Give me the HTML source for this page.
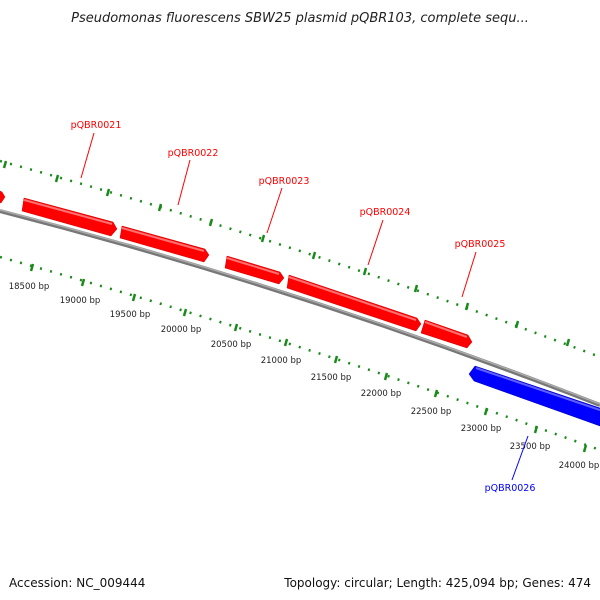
<!DOCTYPE html>
<html><head><meta charset="utf-8"><style>
html,body{margin:0;padding:0;background:#fff;}
svg{display:block;font-family:"DejaVu Sans","Liberation Sans",sans-serif;}
</style></head><body>
<svg width="600" height="600" viewBox="0 0 600 600" xmlns="http://www.w3.org/2000/svg">
<text x="300" y="22" text-anchor="middle" font-size="13" font-style="italic" fill="#222">Pseudomonas fluorescens SBW25 plasmid pQBR103, complete sequ...</text>

<!-- outer tick row -->
<path d="M0,161 Q300,243 600,357" fill="none" stroke="#1a8a1a" stroke-width="2.5" stroke-dasharray="2 8.4"/>
<g stroke="#1a8a1a" stroke-width="2.5">
<line x1="6" y1="161" x2="4" y2="168"/><line x1="58" y1="175" x2="56" y2="182"/><line x1="109" y1="189" x2="107" y2="196"/><line x1="161" y1="204" x2="159" y2="211"/><line x1="212" y1="219" x2="210" y2="226"/><line x1="264" y1="235" x2="262" y2="242"/><line x1="315" y1="252" x2="313" y2="259"/><line x1="366" y1="268" x2="364" y2="275"/><line x1="417" y1="285" x2="415" y2="292"/><line x1="468" y1="303" x2="466" y2="310"/><line x1="518" y1="321" x2="516" y2="328"/><line x1="569" y1="339" x2="567" y2="346"/>
</g>
<!-- inner tick row -->
<path d="M0,257 Q300,341 600,450" fill="none" stroke="#1a8a1a" stroke-width="2.5" stroke-dasharray="2 8.4"/>
<g stroke="#1a8a1a" stroke-width="2.5">
<line x1="33" y1="264" x2="31" y2="271"/><line x1="84" y1="279" x2="82" y2="286"/><line x1="135" y1="294" x2="133" y2="301"/><line x1="186" y1="309" x2="184" y2="316"/><line x1="237" y1="324" x2="235" y2="331"/><line x1="287" y1="339" x2="285" y2="346"/><line x1="337" y1="356" x2="335" y2="363"/><line x1="387" y1="373" x2="385" y2="380"/><line x1="437" y1="390" x2="435" y2="397"/><line x1="487" y1="408" x2="485" y2="415"/><line x1="537" y1="426" x2="535" y2="433"/><line x1="586" y1="445" x2="584" y2="452"/>
</g>
<g font-size="8.5" fill="#222" text-anchor="middle">
<text x="29" y="289">18500 bp</text><text x="80" y="303">19000 bp</text><text x="130" y="317">19500 bp</text><text x="181" y="332">20000 bp</text><text x="231" y="347">20500 bp</text><text x="281" y="363">21000 bp</text><text x="331" y="380">21500 bp</text><text x="381" y="396">22000 bp</text><text x="431" y="414">22500 bp</text><text x="481" y="431">23000 bp</text><text x="530" y="449">23500 bp</text><text x="579" y="468">24000 bp</text>
</g>

<!-- backbone -->
<path d="M0,211 Q300,288 600,405" fill="none" stroke="#777" stroke-width="4"/>
<path d="M0,210 Q300,287 600,404" fill="none" stroke="#aaa" stroke-width="1.5"/>

<!-- red genes -->
<g fill="#f00" stroke="#c00" stroke-width="0.5">
<polygon points="-2,190 2,192 5,197 1,203 -2,202"/>
<polygon points="24,198 113,222 117,229 111,236 22,211"/>
<polygon points="122,226 205,249 209,255 204,262 120,238"/>
<polygon points="227,256 280,272 284,278 279,284 225,268"/>
<polygon points="289,275 417,318 421,324 416,331 287,288"/>
<polygon points="425,320 468,335 472,342 467,348 421,333"/>
</g>
<g stroke="#ff7070" stroke-width="2" fill="none">
<line x1="24" y1="200" x2="112" y2="224"/><line x1="122" y1="228" x2="204" y2="251"/><line x1="227" y1="258" x2="279" y2="274"/><line x1="289" y1="277" x2="416" y2="320"/><line x1="425" y1="322" x2="467" y2="337"/>
</g>
<!-- blue gene -->
<polygon points="475,366 600,408 600,426 474,381 469,374" fill="#00f" stroke="#00a" stroke-width="0.5"/>
<line x1="476" y1="368" x2="600" y2="410" stroke="#6060ff" stroke-width="2"/>

<!-- labels -->
<g font-size="9.5" fill="#f00" stroke="none" text-anchor="middle">
<text x="96" y="128">pQBR0021</text><text x="193" y="156">pQBR0022</text><text x="284" y="184">pQBR0023</text><text x="385" y="215">pQBR0024</text><text x="480" y="247">pQBR0025</text>
</g>
<g stroke="#f00" stroke-width="1">
<line x1="94" y1="133" x2="81" y2="178"/><line x1="190" y1="160" x2="178" y2="205"/><line x1="282" y1="188" x2="267" y2="233"/><line x1="383" y1="220" x2="368" y2="265"/><line x1="476" y1="252" x2="462" y2="297"/>
</g>
<text x="510" y="491" font-size="9.5" fill="#00f" text-anchor="middle">pQBR0026</text>
<line x1="528" y1="436" x2="512" y2="480" stroke="#00f" stroke-width="1"/>

<text x="9" y="587" font-size="12" fill="#111">Accession: NC_009444</text>
<text x="591" y="587" font-size="12" fill="#111" text-anchor="end">Topology: circular; Length: 425,094 bp; Genes: 474</text>
</svg>
</body></html>
